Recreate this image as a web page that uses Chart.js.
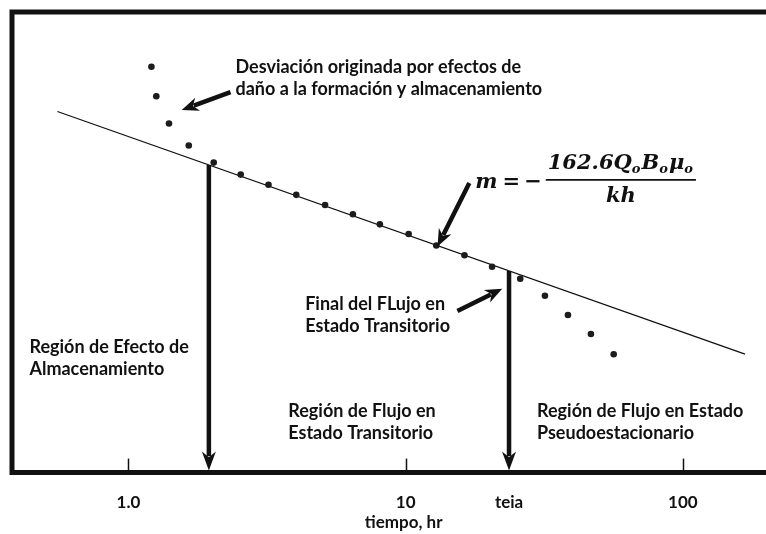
<!DOCTYPE html>
<html>
<head>
<meta charset="utf-8">
<script src="https://cdn.jsdelivr.net/npm/chart.js@4.4.0/dist/chart.umd.min.js"></script>
<style>
  html, body { margin: 0; padding: 0; background: #fff; }
</style>
</head>
<body>
<canvas id="myChart" width="766" height="534"></canvas>
<script>
// tiempo (hr) y presion de fondo (eje vertical sin escala, unidades arbitrarias)
let tiempo = [1.21, 1.26, 1.40, 1.65, 2.03, 2.54, 3.2, 4.03, 5.12, 6.45, 8.07, 10.25, 12.9, 16.3, 20.5, 25.9, 31.8, 38.5, 46.6, 56.3];
let presion = [88.1, 81.7, 75.8, 71.0, 67.3, 64.7, 62.5, 60.3, 58.1, 56.1, 53.9, 51.8, 49.3, 47.2, 44.7, 42.1, 38.4, 34.2, 30.1, 25.7];

// recta semilog (extremos)
let rectaX = [0.554, 167.6];
let rectaY = [78.4, 25.7];

let teia = 23.6;
let tAlmac = 1.95;

let tickValues = [1, 10, teia, 100];
let tickLabels = ['1.0', '10', 'teia', '100'];

const fuente = '700 18px Lato';
const negro = '#111';

// textos y flechas, en coordenadas del grafico
const notas = [
    { x: 2.432, y: 88.1, lineas: ['Desviación originada por efectos de', 'daño a la formación y almacenamiento'] },
    { x: 4.339, y: 36.65, lineas: ['Final del FLujo en', 'Estado Transitorio'] },
    { x: 0.4393, y: 27.24, lineas: ['Región de Efecto de', 'Almacenamiento'] },
    { x: 3.771, y: 13.24, lineas: ['Región de Flujo en', 'Estado Transitorio'] },
    { x: 29.78, y: 13.24, lineas: ['Región de Flujo en Estado', 'Pseudoestacionario'] }
];

const flechas = [
    { desde: [2.334, 82.6], hasta: [1.556, 78.7] },
    { desde: [16.97, 62.9], hasta: [13.03, 49.1] },
    { desde: [15.37, 35.1], hasta: [22.30, 39.9] }
];

const ecuacion = { x: 17.84, y: 62.9 };

function punta(c, x1, y1, x2, y2, largo, ancho) {
    let ang = Math.atan2(y2 - y1, x2 - x1);
    c.save();
    c.translate(x2, y2);
    c.rotate(ang);
    c.beginPath();
    c.moveTo(0, 0);
    c.lineTo(-largo, -ancho);
    c.lineTo(-largo * 0.7, 0);
    c.lineTo(-largo, ancho);
    c.closePath();
    c.fill();
    c.restore();
}

function flecha(c, x1, y1, x2, y2, grosor, largo, ancho) {
    let ang = Math.atan2(y2 - y1, x2 - x1);
    let bx = x2 - Math.cos(ang) * largo * 0.75;
    let by = y2 - Math.sin(ang) * largo * 0.75;
    c.lineWidth = grosor;
    c.lineCap = 'butt';
    c.beginPath();
    c.moveTo(x1, y1);
    c.lineTo(bx, by);
    c.stroke();
    punta(c, x1, y1, x2, y2, largo, ancho);
}

function dibujarEcuacion(c, x, y) {
    let fItal = 'italic 700 21px "DejaVu Serif"';
    let fRecta = '700 21px "DejaVu Serif"';
    let fSub = 'italic 700 13px "DejaVu Serif"';
    c.textBaseline = 'middle';
    c.textAlign = 'left';

    c.font = fItal;
    c.fillText('m', x, y);
    x += c.measureText('m').width + 5;
    c.font = fRecta;
    c.fillText('=', x, y);
    x += c.measureText('=').width + 4;
    c.fillText('\u2212', x, y);
    x += c.measureText('\u2212').width + 4;

    // numerador con subindices
    let partes = [['162.6', false], ['Q', false], ['o', true], ['B', false], ['o', true], ['\u03bc', false], ['o', true]];
    let ancho = 0;
    partes.forEach(p => {
        c.font = p[1] ? fSub : fItal;
        ancho += c.measureText(p[0]).width + (p[1] ? 1 : 0);
    });
    let barra = ancho + 4;
    let nx = x + 2;
    let ny = y - 19;
    partes.forEach(p => {
        c.font = p[1] ? fSub : fItal;
        c.fillText(p[0], nx, p[1] ? ny + 6 : ny);
        nx += c.measureText(p[0]).width + (p[1] ? 1 : 0);
    });

    c.lineWidth = 1.8;
    c.beginPath();
    c.moveTo(x, y - 3);
    c.lineTo(x + barra, y - 3);
    c.stroke();

    c.font = fItal;
    c.textAlign = 'center';
    c.fillText('kh', x + barra / 2, y + 14);
}

const anotaciones = {
    id: 'anotaciones',
    afterDraw(chart) {
        let c = chart.ctx;
        let xs = chart.scales.x;
        let ys = chart.scales.y;
        let a = chart.chartArea;
        c.save();
        c.fillStyle = negro;
        c.strokeStyle = negro;

        // marco
        c.lineWidth = 5;
        c.lineJoin = 'miter';
        c.beginPath();
        c.moveTo(a.right + 10, a.top);
        c.lineTo(a.left, a.top);
        c.lineTo(a.left, a.bottom);
        c.lineTo(a.right + 10, a.bottom);
        c.stroke();

        // marcas hacia dentro
        c.lineWidth = 1.5;
        [1, 10, 100].forEach(v => {
            let px = Math.round(xs.getPixelForValue(v)) + 0.5;
            c.beginPath();
            c.moveTo(px, a.bottom - 14);
            c.lineTo(px, a.bottom);
            c.stroke();
        });

        // flechas verticales desde la recta
        let px0 = xs.getPixelForValue(rectaX[0]), py0 = ys.getPixelForValue(rectaY[0]);
        let px1 = xs.getPixelForValue(rectaX[1]), py1 = ys.getPixelForValue(rectaY[1]);
        [tAlmac, teia].forEach(t => {
            let px = xs.getPixelForValue(t);
            let py = py0 + (py1 - py0) * (px - px0) / (px1 - px0);
            flecha(c, px, py, px, a.bottom - 2, 4.5, 19, 7);
        });

        // flechas inclinadas
        flechas.forEach(f => {
            flecha(c,
                xs.getPixelForValue(f.desde[0]), ys.getPixelForValue(f.desde[1]),
                xs.getPixelForValue(f.hasta[0]), ys.getPixelForValue(f.hasta[1]),
                4.5, 17, 7);
        });

        // textos
        c.font = fuente;
        c.textBaseline = 'middle';
        c.textAlign = 'left';
        notas.forEach(n => {
            let px = xs.getPixelForValue(n.x);
            let py = ys.getPixelForValue(n.y);
            n.lineas.forEach((l, i) => c.fillText(l, px, py + i * 22));
        });

        // titulo del eje
        c.font = '700 17px Lato';
        c.textAlign = 'center';
        c.fillText('tiempo, hr', xs.getPixelForValue(10) - 2, 523);

        dibujarEcuacion(c, xs.getPixelForValue(ecuacion.x), ys.getPixelForValue(ecuacion.y));
        c.restore();
    }
};

let ctx = document.getElementById('myChart').getContext('2d');

let myChart = new Chart(ctx, {
    type: 'scatter',
    data: {
        datasets: [{
            label: 'pwf',
            data: tiempo.map((t, i) => ({ x: t, y: presion[i] })),
            pointRadius: 3.3,
            pointBackgroundColor: '#1c1c1c',
            pointBorderWidth: 0,
            showLine: false
        },
        {
            label: 'recta',
            data: rectaX.map((t, i) => ({ x: t, y: rectaY[i] })),
            showLine: true,
            pointRadius: 0,
            borderColor: negro,
            borderWidth: 1.3
        }]
    },
    options: {
        responsive: false,
        animation: false,
        devicePixelRatio: 1,
        layout: {
            padding: { left: 12, top: 12, right: 0, bottom: 1 }
        },
        plugins: {
            legend: { display: false },
            tooltip: { enabled: false }
        },
        scales: {
            x: {
                type: 'logarithmic',
                min: 0.38,
                max: 193,
                grid: { display: false, drawTicks: false },
                border: { display: false },
                afterBuildTicks: function(scale) {
                    scale.ticks = tickValues.map(v => ({ value: v }));
                },
                ticks: {
                    autoSkip: false,
                    maxRotation: 0,
                    padding: 20,
                    color: negro,
                    font: { family: 'Lato', weight: 'bold', size: 17 },
                    callback: function(value, index) {
                        return tickLabels[index];
                    }
                }
            },
            y: {
                display: false,
                min: 0,
                max: 100
            }
        }
    },
    plugins: [anotaciones]
});
</script>
</body>
</html>
